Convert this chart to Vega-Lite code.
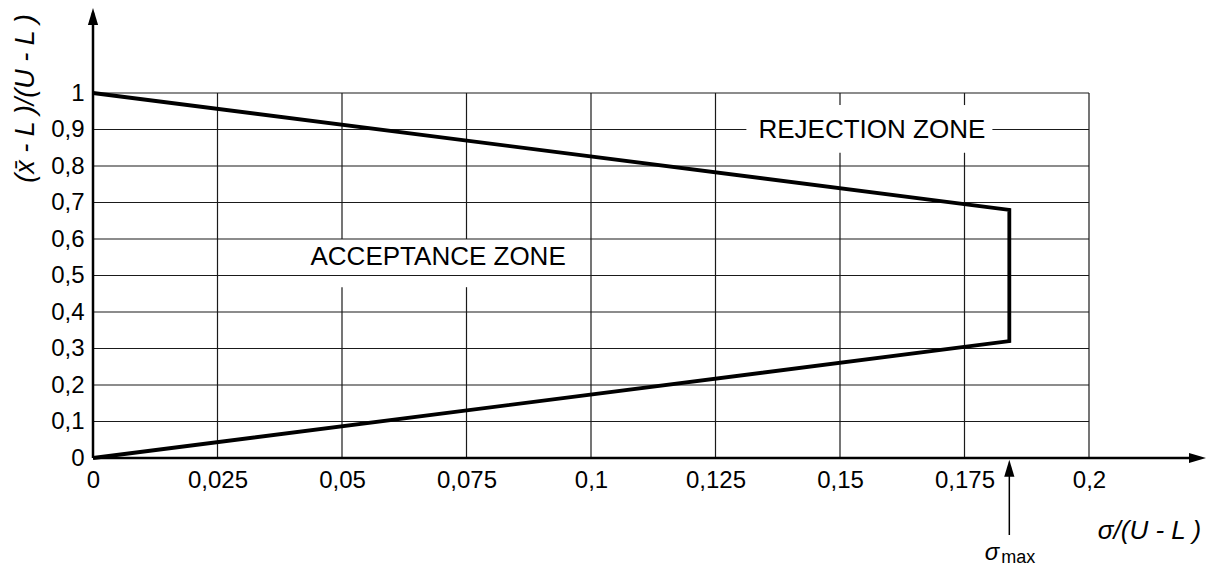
{
  "$schema": "https://vega.github.io/schema/vega-lite/v6.json",
  "width": 996,
  "height": 365,
  "autosize": {"type": "none"},
  "padding": {"left": 93, "top": 93, "right": 121, "bottom": 109},
  "background": "white",
  "config": {"view": {"stroke": null}, "font": "Liberation Sans"},
  "datasets": {
    "curve": [
      {"x": 0, "y": 1, "o": 1},
      {"x": 0.184, "y": 0.68, "o": 2},
      {"x": 0.184, "y": 0.32, "o": 3},
      {"x": 0, "y": 0, "o": 4}
    ],
    "vgrid": [
      {"x": 0.025, "y": 0, "y2": 1},
      {"x": 0.05, "y": 0, "y2": 0.468},
      {"x": 0.05, "y": 0.6, "y2": 1},
      {"x": 0.075, "y": 0, "y2": 0.468},
      {"x": 0.075, "y": 0.6, "y2": 1},
      {"x": 0.1, "y": 0, "y2": 1},
      {"x": 0.125, "y": 0, "y2": 1},
      {"x": 0.15, "y": 0, "y2": 0.836},
      {"x": 0.15, "y": 0.967, "y2": 1},
      {"x": 0.175, "y": 0, "y2": 0.836},
      {"x": 0.175, "y": 0.967, "y2": 1},
      {"x": 0.2, "y": 0, "y2": 1}
    ],
    "hgrid": [
      {"y": 0.1, "x": 0, "x2": 0.2},
      {"y": 0.2, "x": 0, "x2": 0.2},
      {"y": 0.3, "x": 0, "x2": 0.2},
      {"y": 0.4, "x": 0, "x2": 0.2},
      {"y": 0.5, "x": 0, "x2": 0.2},
      {"y": 0.6, "x": 0, "x2": 0.2},
      {"y": 0.7, "x": 0, "x2": 0.2},
      {"y": 0.8, "x": 0, "x2": 0.2},
      {"y": 0.9, "x": 0, "x2": 0.1312},
      {"y": 0.9, "x": 0.1806, "x2": 0.2},
      {"y": 1, "x": 0, "x2": 0.2}
    ],
    "axislines": [
      {"x": 0, "y": 0, "x2": 0, "y2": 1.22},
      {"x": 0, "y": 0, "x2": 0.222, "y2": 0}
    ],
    "sigmaline": [
      {"x": 0.184, "y": -0.04, "x2": 0.184, "y2": -0.211}
    ],
    "uparrows": [
      {"x": 0, "y": 1.233},
      {"x": 0.184, "y": -0.005}
    ],
    "rightarrows": [
      {"x": 0.2235, "y": 0}
    ],
    "zones": [
      {"x": 0.0693, "y": 0.529, "t": "ACCEPTANCE ZONE"},
      {"x": 0.1564, "y": 0.877, "t": "REJECTION ZONE"}
    ],
    "sigma": [{"x": 0.1805, "y": -0.279, "t": "σ"}],
    "sub": [{"x": 0.1824, "y": -0.288, "t": "max"}]
  },
  "encoding": {
    "x": {
      "field": "x", "type": "quantitative",
      "scale": {"domain": [0, 0.2], "nice": false, "zero": false},
      "axis": {
        "values": [0, 0.025, 0.05, 0.075, 0.1, 0.125, 0.15, 0.175, 0.2],
        "labelExpr": "replace(format(datum.value, '~g'), '.', ',')",
        "domain": false, "ticks": false, "grid": false,
        "labelFont": "Liberation Sans", "labelFontSize": 24, "labelColor": "black",
        "labelPadding": 10, "labelFlush": false, "labelOverlap": false,
        "title": "σ/(U - L )",
        "titleFont": "Liberation Sans", "titleFontSize": 26, "titleFontStyle": "italic",
        "titleFontWeight": "normal", "titleColor": "black",
        "titleX": 1056, "titleY": 80, "titleAlign": "center", "titleBaseline": "alphabetic", "titleAngle": 0
      }
    },
    "y": {
      "field": "y", "type": "quantitative",
      "scale": {"domain": [0, 1], "nice": false, "zero": false},
      "axis": {
        "values": [0, 0.1, 0.2, 0.3, 0.4, 0.5, 0.6, 0.7, 0.8, 0.9, 1],
        "labelExpr": "replace(format(datum.value, '~g'), '.', ',')",
        "domain": false, "ticks": false, "grid": false,
        "labelFont": "Liberation Sans", "labelFontSize": 24, "labelColor": "black",
        "labelPadding": 9, "labelFlush": false, "labelOverlap": false,
        "title": "(x̄ - L )/(U - L )",
        "titleFont": "Liberation Sans", "titleFontSize": 27, "titleFontStyle": "italic",
        "titleFontWeight": "normal", "titleColor": "black",
        "titleX": -60, "titleY": 5, "titleAlign": "center", "titleBaseline": "alphabetic", "titleAngle": 270
      }
    }
  },
  "layer": [
    {
      "data": {"name": "vgrid"},
      "mark": {"type": "rule", "color": "#1a1a1a", "strokeWidth": 1.2},
      "encoding": {"y2": {"field": "y2"}}
    },
    {
      "data": {"name": "hgrid"},
      "mark": {"type": "rule", "color": "#1a1a1a", "strokeWidth": 1.2},
      "encoding": {"x2": {"field": "x2"}}
    },
    {
      "data": {"name": "axislines"},
      "mark": {"type": "rule", "color": "black", "strokeWidth": 2.5},
      "encoding": {"x2": {"field": "x2"}, "y2": {"field": "y2"}}
    },
    {
      "data": {"name": "sigmaline"},
      "mark": {"type": "rule", "color": "black", "strokeWidth": 1.5},
      "encoding": {"x2": {"field": "x2"}, "y2": {"field": "y2"}}
    },
    {
      "data": {"name": "curve"},
      "mark": {"type": "line", "color": "black", "strokeWidth": 3.8, "strokeJoin": "miter", "strokeCap": "butt"},
      "encoding": {"order": {"field": "o", "type": "quantitative"}}
    },
    {
      "data": {"name": "uparrows"},
      "mark": {"type": "point", "shape": "M0,0L0.6,2L-0.6,2Z", "filled": true, "size": 289, "color": "black", "opacity": 1, "strokeWidth": 0},
      "encoding": {}
    },
    {
      "data": {"name": "rightarrows"},
      "mark": {"type": "point", "shape": "M0,0L-2,-0.6L-2,0.6Z", "filled": true, "size": 289, "color": "black", "opacity": 1, "strokeWidth": 0},
      "encoding": {}
    },
    {
      "data": {"name": "zones"},
      "mark": {"type": "text", "font": "Liberation Sans", "fontSize": 26, "color": "black", "align": "center", "baseline": "alphabetic"},
      "encoding": {"text": {"field": "t"}}
    },
    {
      "data": {"name": "sigma"},
      "mark": {"type": "text", "font": "Liberation Sans", "fontSize": 24, "fontStyle": "italic", "color": "black", "align": "center", "baseline": "alphabetic"},
      "encoding": {"text": {"field": "t"}}
    },
    {
      "data": {"name": "sub"},
      "mark": {"type": "text", "font": "Liberation Sans", "fontSize": 18, "color": "black", "align": "left", "baseline": "alphabetic"},
      "encoding": {"text": {"field": "t"}}
    }
  ]
}
